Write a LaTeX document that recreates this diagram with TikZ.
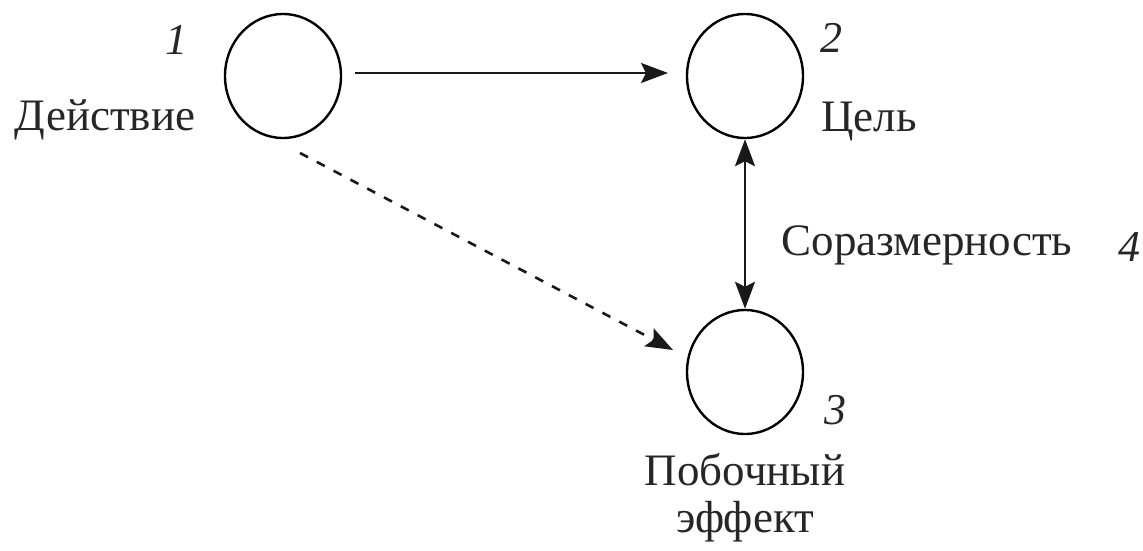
\documentclass[tikz,border=0pt]{standalone}
\usepackage{fontspec}
\setmainfont{Liberation Serif}
\usetikzlibrary{shapes.geometric,arrows.meta}
\begin{document}
\begin{tikzpicture}[x=1pt,y=-1pt,
  state/.style={ellipse,draw=black,line width=2.4pt,minimum width=116pt,minimum height=124pt,inner sep=0pt},
  lbl/.style={font=\fontsize{45}{54}\selectfont,text=black!85,inner sep=0pt},
  num/.style={font=\fontsize{44}{52}\selectfont\itshape,text=black!85,inner sep=0pt},
  conn/.style={line width=2.6pt,draw=black!90},
  tip/.style={-{Stealth[length=27pt,width=20pt,inset=5pt]}}]
\useasboundingbox (0,0) rectangle (1143,551);
\node[state] (n1) at (283,76) {};
\node[state] (n2) at (745,76) {};
\node[state] (n3) at (745,372) {};
\node[num] (k1) at (176,40) {1};
\node[num] (k2) at (831,38) {2};
\node[num] (k3) at (835,410) {3};
\node[num] (k4) at (1129,247) {4};
\node[lbl] (t1) at (105,120) {Действие};
\node[lbl,anchor=west] (t2) at (821,122) {Цель};
\node[lbl] (t4) at (927,245) {Соразмерность};
\node[lbl] (t3a) at (745,470) {Побочный};
\node[lbl] (t3b) at (745,522) {эффект};
\coordinate (a1) at (355,73);
\coordinate (a2) at (668,73);
\draw[conn,tip] (a1) -- (a2);
\draw[conn,{Stealth[length=27pt,width=20pt,inset=5pt]}-{Stealth[length=27pt,width=20pt,inset=5pt]}] (n2.south) -- (n3.north);
\coordinate (d1) at (300,153);
\coordinate (d2) at (673,350);
\draw[conn,tip,dash pattern=on 9pt off 10pt] (d1) -- (d2);
\end{tikzpicture}
\end{document}
